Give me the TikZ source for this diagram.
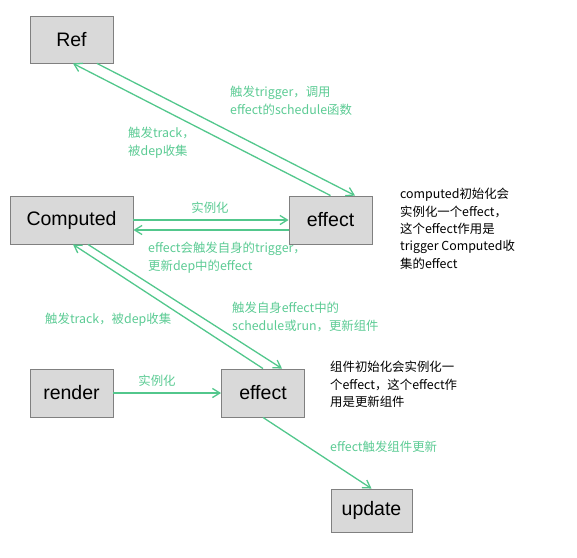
\documentclass[tikz,border=0pt]{standalone}
\usepackage{fontspec}
\setmainfont{Noto Sans CJK SC}
\newfontfamily\boxfont{Liberation Sans}
\usetikzlibrary{arrows.meta}
\definecolor{flowgreen}{HTML}{52C78C}
\definecolor{labelgreen}{HTML}{5CCB94}
\definecolor{boxfill}{HTML}{D9D9D9}
\definecolor{boxline}{HTML}{808080}

\begin{document}
\begin{tikzpicture}[
  x=1pt, y=-1pt,
  blk/.style={rectangle, draw=boxline, fill=boxfill, line width=0.9pt, minimum width=83pt, minimum height=47pt, inner sep=0pt, font=\boxfont\fontsize{19.5}{24}\selectfont},
  lbl/.style={text=labelgreen, inner sep=0pt, align=left, font=\fontsize{12.4}{17.4}\selectfont},
  note/.style={text=black, inner sep=0pt, align=left, font=\fontsize{12.4}{17.4}\selectfont},
  arr/.style={-{Straight Barb[length=2.6mm, width=3.2mm]}, line width=1.3pt, flowgreen},
]
\useasboundingbox (0,0) rectangle (577,557);

% Boxes
\node[blk] (ref) at (71.5,39.5) {Ref};
\node[blk, minimum width=123pt, minimum height=48pt] (comp) at (71.5,220) {Computed};
\node[blk, minimum height=48pt] (eff1) at (330.5,220) {effect};
\node[blk, minimum height=48pt] (render) at (71.5,393) {render};
\node[blk, minimum height=48pt] (eff2) at (263,393) {effect};
\node[blk, minimum width=81pt, minimum height=43pt] (upd) at (371.5,510.5) {update};

% Ref <-> effect
\draw[arr] ([xshift=25.5pt]ref.south) -- ([xshift=24.5pt]eff1.north);
\draw[arr] (eff1.north) -- ([xshift=1.5pt]ref.south);
\node[lbl, anchor=north west] (tTrig) at (230,86) {触发trigger，调用\\effect的schedule函数};
\node[lbl, anchor=north west] (tTrack) at (128,127) {触发track，\\被dep收集};

% Computed <-> effect
\draw[arr] (comp.east) -- (eff1.west);
\draw[arr] ([yshift=-10pt]eff1.west) -- ([yshift=-10pt]comp.east);
\node[lbl] (tInst1) at (210,208) {实例化};
\node[lbl, anchor=north west] (tSelf) at (148,242) {effect会触发自身的trigger，\\更新dep中的effect};
\node[note, anchor=north west] (nComp) at (400,188) {computed初始化会\\实例化一个effect，\\这个effect作用是\\trigger Computed收\\集的effect};

% Computed <-> component effect
\draw[arr] (eff2.north) -- ([xshift=1.5pt]comp.south);
\draw[arr] ([xshift=16.5pt]comp.south) -- ([xshift=19pt]eff2.north);
\node[lbl, anchor=west] (tTrack2) at (45,320) {触发track，被dep收集};
\node[lbl, anchor=north west] (tRun) at (232,302) {触发自身effect中的\\schedule或run，更新组件};

% render -> effect -> update
\draw[arr] (render.east) -- (eff2.west);
\node[lbl] (tInst2) at (157,381) {实例化};
\node[note, anchor=north west] (nRender) at (330,361) {组件初始化会实例化一\\个effect，这个effect作\\用是更新组件};
\draw[arr] (eff2.south) -- (upd.north);
\node[lbl, anchor=west] (tUpd) at (330,447) {effect触发组件更新};

\end{tikzpicture}
\end{document}
